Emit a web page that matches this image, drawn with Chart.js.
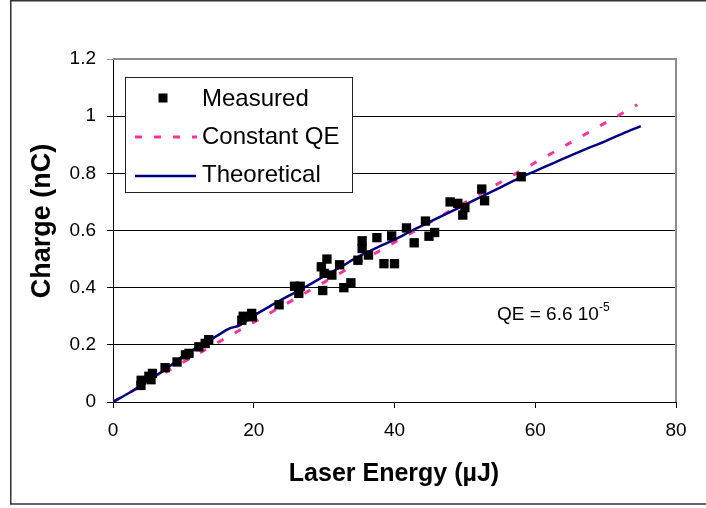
<!DOCTYPE html>
<html>
<head>
<meta charset="utf-8">
<script src="https://cdn.jsdelivr.net/npm/chart.js@4.4.0/dist/chart.umd.min.js"></script>
<style>
  body { margin: 0; background: #fff; }
  canvas { display: block; }
</style>
</head>
<body>
<canvas id="qeChart" width="706" height="508"></canvas>
<script>
// measured charge vs laser energy
const measuredEnergy = [3.97, 4.0, 5.1, 5.4, 5.6, 7.4, 9.1, 10.3, 10.8, 12.2, 13.1, 13.6,
  18.3, 18.5, 19.7, 19.8, 23.6, 25.8, 26.6, 26.4, 29.6, 29.8, 30.0, 30.4, 31.1, 32.2,
  32.8, 33.8, 34.8, 35.4, 35.4, 36.3, 37.5, 38.5, 39.6, 40.0, 41.7, 42.8, 44.4, 44.9,
  45.7, 47.9, 49.0, 49.7, 50.0, 52.4, 52.8, 58.0];
const measuredCharge = [0.058, 0.076, 0.09, 0.078, 0.10, 0.12, 0.14, 0.165, 0.17, 0.193, 0.205, 0.218,
  0.286, 0.30, 0.31, 0.298, 0.34, 0.405, 0.405, 0.38, 0.473, 0.39, 0.45, 0.50, 0.444, 0.48,
  0.40, 0.417, 0.496, 0.564, 0.537, 0.514, 0.575, 0.484, 0.581, 0.484, 0.609, 0.557, 0.633, 0.58,
  0.593, 0.70, 0.695, 0.654, 0.68, 0.745, 0.704, 0.788];

const theoryEnergy = [0, 2.5, 5, 7.5, 10, 12.5, 15, 16.5, 18, 20, 22.5, 25, 27.5, 30, 32.5, 35,
  37.5, 40, 42.5, 45, 47.5, 50, 52.5, 55, 57.5, 60, 62.5, 65, 67.5, 70, 72.5, 75];
const theoryCharge = [0, 0.035, 0.075, 0.115, 0.162, 0.198, 0.235, 0.257, 0.268, 0.302, 0.338, 0.372,
  0.405, 0.44, 0.475, 0.51, 0.54, 0.568, 0.6, 0.63, 0.66, 0.69, 0.72, 0.75, 0.781, 0.808,
  0.835, 0.862, 0.888, 0.913, 0.94, 0.965];

const constQeEnergy = [0, 74.5];
const constQeCharge = [0, 1.04];

const xTicks = [0, 20, 40, 60, 80];
const yTicks = [0, 0.2, 0.4, 0.6, 0.8, 1, 1.2];

const FONT = "'Liberation Sans', Arial, sans-serif";
const toPoints = (xs, ys) => xs.map((x, i) => ({ x: x, y: ys[i] }));

// frame, legend, titles and QE note
const decorations = {
  id: 'decorations',
  afterDraw(chart) {
    const ctx = chart.ctx;
    const a = chart.chartArea;
    ctx.save();

    // gray plot border (top + right)
    ctx.strokeStyle = '#8c8c8c';
    ctx.lineWidth = 2;
    ctx.beginPath();
    ctx.moveTo(a.left, a.top);
    ctx.lineTo(a.right, a.top);
    ctx.lineTo(a.right, a.bottom);
    ctx.stroke();

    // outer frame
    ctx.strokeStyle = '#333';
    ctx.lineWidth = 1.5;
    ctx.beginPath();
    ctx.moveTo(706, 0.75);
    ctx.lineTo(10.75, 0.75);
    ctx.lineTo(10.75, 504);
    ctx.lineTo(706, 504);
    ctx.stroke();

    // legend
    ctx.fillStyle = '#fff';
    ctx.fillRect(125, 77, 227, 115);
    ctx.strokeStyle = '#222';
    ctx.lineWidth = 1;
    ctx.strokeRect(125.5, 77.5, 227, 115);

    ctx.fillStyle = '#000';
    ctx.fillRect(158.5, 93.5, 9, 9);

    ctx.strokeStyle = '#ff3399';
    ctx.lineWidth = 3;
    ctx.setLineDash([7, 12]);
    ctx.beginPath();
    ctx.moveTo(135, 137);
    ctx.lineTo(197, 137);
    ctx.stroke();
    ctx.setLineDash([]);

    ctx.strokeStyle = '#000080';
    ctx.lineWidth = 2.5;
    ctx.beginPath();
    ctx.moveTo(135, 176);
    ctx.lineTo(196, 176);
    ctx.stroke();

    ctx.fillStyle = '#000';
    ctx.font = '24px ' + FONT;
    ctx.textAlign = 'left';
    ctx.textBaseline = 'alphabetic';
    ctx.fillText('Measured', 202, 106);
    ctx.fillText('Constant QE', 202, 144);
    ctx.fillText('Theoretical', 202, 182);

    // QE note
    ctx.font = '19px ' + FONT;
    ctx.fillText('QE = 6.6 10', 497, 320);
    const w = ctx.measureText('QE = 6.6 10').width;
    ctx.font = '12px ' + FONT;
    ctx.fillText('-5', 497 + w, 311);

    // axis titles
    ctx.font = 'bold 25px ' + FONT;
    ctx.textAlign = 'center';
    ctx.fillText('Laser Energy (\u00b5J)', 394, 481);

    ctx.translate(50, 221);
    ctx.rotate(-Math.PI / 2);
    ctx.font = 'bold 27px ' + FONT;
    ctx.fillText('Charge (nC)', 0, 0);
    ctx.restore();
  }
};

new Chart(document.getElementById('qeChart'), {
  type: 'scatter',
  data: {
    datasets: [{
      label: 'Measured',
      data: toPoints(measuredEnergy, measuredCharge),
      pointStyle: 'rect',
      pointRadius: 6.6,
      backgroundColor: '#000',
      borderWidth: 0,
      order: 0
    }, {
      label: 'Theoretical',
      data: toPoints(theoryEnergy, theoryCharge),
      showLine: true,
      borderColor: '#000080',
      borderWidth: 2.5,
      pointRadius: 0,
      tension: 0.3,
      order: 1
    }, {
      label: 'Constant QE',
      data: toPoints(constQeEnergy, constQeCharge),
      showLine: true,
      borderColor: '#ff3399',
      borderWidth: 3,
      borderDash: [7, 13],
      pointRadius: 0,
      order: 2
    }]
  },
  options: {
    responsive: false,
    animation: false,
    layout: { padding: { top: 59, right: 30, left: 0, bottom: 0 } },
    plugins: { legend: { display: false }, tooltip: { enabled: false } },
    scales: {
      x: {
        type: 'linear',
        min: 0,
        max: 80,
        afterBuildTicks: s => { s.ticks = xTicks.map(v => ({ value: v })); },
        afterFit: s => { s.height = 106; },
        grid: { drawOnChartArea: false, tickLength: 6, color: '#000' },
        border: { color: '#000', width: 1 },
        ticks: { color: '#000', padding: 11, maxRotation: 0, font: { family: FONT, size: 19 } }
      },
      y: {
        type: 'linear',
        min: 0,
        max: 1.2,
        afterBuildTicks: s => { s.ticks = yTicks.map(v => ({ value: v })); },
        afterFit: s => { s.width = 113; },
        grid: {
          tickLength: 6,
          color: c => (c.tick && c.tick.value === 1.2 ? '#8c8c8c' : '#000')
        },
        border: { color: '#000', width: 1 },
        ticks: {
          color: '#000',
          padding: 11,
          font: { family: FONT, size: 19 },
          callback: v => String(v)
        }
      }
    }
  },
  plugins: [decorations]
});
</script>
</body>
</html>
